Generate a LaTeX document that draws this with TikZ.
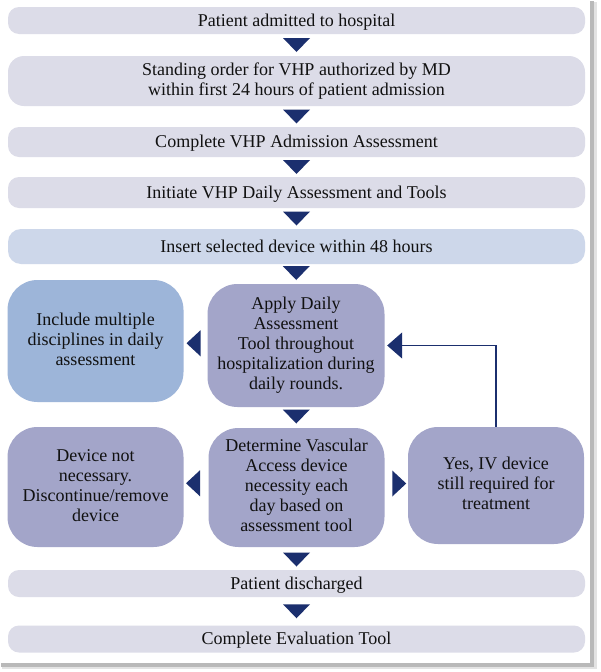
\documentclass[tikz,border=0pt]{standalone}
\usepackage{fontspec}
\setmainfont{Liberation Serif}
\usetikzlibrary{calc,arrows.meta}
\definecolor{bargray}{HTML}{DCDCE8}
\definecolor{insertblue}{HTML}{CDD7EA}
\definecolor{boxblue}{HTML}{9DB5D9}
\definecolor{lav}{HTML}{A3A5C9}
\definecolor{navy}{HTML}{1B2F6E}
\definecolor{txt}{HTML}{111111}
\newcommand\mystrutS{\rule[-4pt]{0pt}{16pt}}
\newcommand\mystrutB{\rule[-4pt]{0pt}{19pt}}
\begin{document}
\begin{tikzpicture}[x=1pt,y=-1pt,
  base/.style={draw=none, inner sep=0pt, align=center, text=txt, font=\fontsize{18}{20}\selectfont},
  bar/.style={base, fill=bargray, rounded corners=11pt, minimum width=577pt},
  bigbox/.style={base, fill=lav, rounded corners=30pt, minimum width=176pt},
  downtri/.pic={\fill[navy] (-13.5,-7) -- (13.5,-7) -- (0,7) -- cycle;},
  lefttri/.pic={\fill[navy] (7,-13) -- (7,13) -- (-7,0) -- cycle;},
  righttri/.pic={\fill[navy] (-7,-13) -- (-7,13) -- (7,0) -- cycle;}]
\useasboundingbox (0,0) rectangle (600,672);
% frame with shadow
\fill[gray!22] (2,2) rectangle (597,669);
\fill[gray!55] (1,1) rectangle (594,667);
\fill[white] (0,0) rectangle (590,663);

\node[bar, minimum height=27pt] (b1) at (296.5,20.5) {\mystrutB Patient admitted to hospital};
\node[bar, minimum height=50pt, rounded corners=16pt] (b2) at (296.5,81) {\mystrutS Standing order for VHP authorized by MD\\\mystrutS within first 24 hours of patient admission};
\node[bar, minimum height=30pt] (b3) at (296.5,142) {\mystrutB Complete VHP Admission Assessment};
\node[bar, minimum height=31pt] (b4) at (296.5,192.5) {\mystrutB Initiate VHP Daily Assessment and Tools};
\node[bar, fill=insertblue, minimum height=35pt, rounded corners=13pt] (b5) at (296.5,246.5) {\mystrutB Insert selected device within 48 hours};

\node[bigbox, fill=boxblue, minimum height=122pt] (r1l) at (95.5,341) {\mystrutS Include multiple\\\mystrutS disciplines in daily\\\mystrutS assessment};
\node[bigbox, minimum width=177pt, minimum height=123pt] (r1c) at (296,345.5) {\mystrutS Apply Daily\\\mystrutS Assessment\\\mystrutS Tool throughout\\\mystrutS hospitalization during\\\mystrutS daily rounds.};
\node[bigbox, minimum height=120pt] (r2l) at (95.5,487) {\mystrutS Device not\\\mystrutS necessary.\\\mystrutS Discontinue/remove\\\mystrutS device};
\node[bigbox, minimum height=119pt] (r2c) at (296.5,487.5) {\mystrutS Determine Vascular\\\mystrutS Access device\\\mystrutS necessity each\\\mystrutS day based on\\\mystrutS assessment tool};
\node[bigbox, minimum height=117pt] (r2r) at (496,485.5) {\mystrutS Yes, IV device\\\mystrutS still required for\\\mystrutS treatment};

\node[bar, minimum height=27pt] (b6) at (296.5,583.5) {\mystrutB Patient discharged};
\node[bar, minimum height=27pt] (b7) at (296.5,639) {\mystrutB Complete Evaluation Tool};

% down connectors
\pic at ($(b1.south)!0.5!(b2.north)$) {downtri};
\pic at ($(b2.south)!0.5!(b3.north)$) {downtri};
\pic at ($(b3.south)!0.5!(b4.north)$) {downtri};
\pic at ($(b4.south)!0.5!(b5.north)$) {downtri};
\pic at ($(b5.south)!0.5!(r1c.north)+(0,-1)$) {downtri};
\pic at ($(r1c.south)!0.5!(r2c.north)+(0,-1)$) {downtri};
\pic at ($(r2c.south)!0.5!(b6.north)+(0,1)$) {downtri};
\pic at ($(b6.south)!0.5!(b7.north)$) {downtri};
% side connectors
\pic at ($(r1l.east)!0.5!(r1c.west)+(-2,0)$) {lefttri};
\pic at ($(r2l.east)!0.5!(r2c.west)+(-3,-4)$) {lefttri};
\pic at ($(r2c.east)!0.5!(r2r.west)+(3,-3)$) {righttri};
% feedback loop
\draw[navy, line width=1.3pt, -{Triangle[width=26pt,length=15pt]}, shorten >=2.5pt] (r2r.north) |- (r1c.east);
\end{tikzpicture}
\end{document}
